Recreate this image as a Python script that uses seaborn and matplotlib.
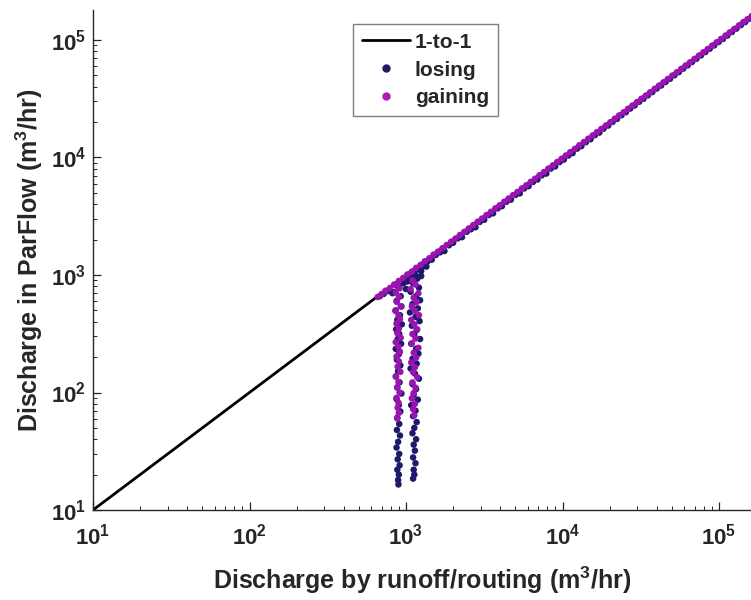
import numpy as np
import pandas as pd
import matplotlib
matplotlib.use("Agg")
import matplotlib.pyplot as plt
import seaborn as sns
from matplotlib.lines import Line2D
from matplotlib.ticker import FixedLocator, FixedFormatter, LogLocator, NullFormatter

# ---------------- data ----------------
one_to_one = [10, 200000]

# losing points along the 1:1 line
losing_line_x = [680, 720, 770, 820, 870, 930, 990, 1050, 1120, 1200, 1280, 1370, 1460, 1550,
                 1650, 1760, 1880, 2000, 2140, 2280, 2440, 2600, 2780, 2960, 3160, 3380, 3600,
                 3850, 4100, 4380, 4680, 5000, 5330, 5690, 6070, 6480, 6920, 7380, 7880, 8410,
                 8980, 9580, 10200, 10900, 11600, 12400, 13200, 14100, 15100, 16100, 17200,
                 18300, 19600, 20900, 22300, 23800, 25400, 27100, 28900, 30900, 32900, 35100,
                 37500, 40000, 42700, 45600, 48600, 51900, 55400, 59100, 63100, 67300, 71800,
                 76700, 81800, 87300, 93200, 99500, 106000, 113000, 121000, 129000, 138000,
                 147000, 157000]
losing_line_y = [660, 690, 730, 700, 820, 870, 930, 960, 1050, 1120, 1180, 1300, 1350, 1480,
                 1560, 1600, 1790, 1880, 2050, 2100, 2330, 2450, 2550, 2830, 2950, 3240, 3350,
                 3690, 3850, 4200, 4380, 4800, 4950, 5450, 5700, 6200, 6500, 7050, 7300, 8050,
                 8400, 9150, 9600, 10400, 10900, 11900, 12500, 13500, 14300, 15500, 16300,
                 17600, 18700, 20100, 21300, 22900, 24300, 26100, 27700, 29800, 31600, 33800,
                 36000, 38600, 41000, 44000, 46700, 50100, 53300, 57100, 60800, 65000, 69300,
                 74000, 79000, 84300, 90000, 96200, 102000, 109000, 117000, 125000, 134000,
                 142000, 152000]

# losing points in the two vertical columns near 10^3 (and the fan where they meet the line)
losing_col_x = [900, 850, 925, 870, 935, 860, 915, 880, 940, 865, 905, 885, 930, 860, 900, 875,
                920, 890, 860, 910, 880, 935, 870, 900, 920, 880, 905, 875, 915, 890, 870, 905,
                885, 910, 880, 900, 890, 895,
                1180, 1110, 1210, 1070, 1160, 1230, 1100, 1190, 1060, 1150, 1220, 1090, 1170,
                1130, 1230, 1080, 1160, 1200, 1100, 1170, 1070, 1140, 1210, 1100, 1160, 1120,
                1190, 1080, 1150, 1110, 1170, 1130, 1100, 1160, 1120, 1140, 1110, 1150, 1120,
                1130, 1110,
                960, 1020, 1080, 1150, 1250, 1350, 1000, 1250]
losing_col_y = [800, 720, 660, 600, 540, 500, 455, 415, 380, 345, 315, 285, 260, 235, 212, 190,
                170, 152, 137, 122, 110, 98, 88, 78, 69, 61, 54, 48, 43, 38, 34, 30,
                27, 24, 22, 20, 18, 16.5,
                930, 850, 780, 720, 660, 610, 565, 520, 480, 440, 405, 370, 340,
                310, 285, 260, 236, 214, 194, 176, 160, 145, 131, 118, 107, 96,
                87, 78, 70, 63, 56, 50, 45, 40, 36, 32, 28, 25, 22,
                20, 18.5,
                850, 880, 950, 1000, 1080, 1180, 760, 980]

# gaining points along the 1:1 line
gaining_line_x = [660, 700, 740, 790, 840, 900, 960, 1020, 1090, 1160, 1240, 1320, 1410, 1500,
                  1600, 1710, 1820, 1940, 2070, 2210, 2360, 2520, 2690, 2870, 3060, 3270, 3490,
                  3720, 3970, 4240, 4520, 4830, 5150, 5500, 5870, 6260, 6680, 7130, 7610, 8120,
                  8670, 9250, 9870, 10500, 11200, 12000, 12800, 13700, 14600, 15600, 16600,
                  17700, 18900, 20200, 21600, 23000, 24600, 26200, 28000, 29900, 31900, 34000,
                  36300, 38800, 41400, 44200, 47100, 50300, 53700, 57300, 61200, 65300, 69700,
                  74400, 79400, 84700, 90400, 96500, 103000, 110000, 117000, 125000, 134000,
                  143000, 152000, 162000]
gaining_line_y = [650, 690, 735, 775, 830, 890, 945, 1010, 1070, 1150, 1220, 1310, 1390, 1490,
                  1580, 1690, 1800, 1920, 2040, 2190, 2330, 2490, 2660, 2840, 3020, 3240, 3450,
                  3690, 3920, 4200, 4470, 4780, 5090, 5450, 5800, 6200, 6600, 7060, 7520, 8040,
                  8570, 9160, 9760, 10400, 11100, 11850, 12700, 13550, 14450, 15400, 16450,
                  17500, 18700, 19950, 21400, 22800, 24300, 25950, 27700, 29600, 31600, 33600,
                  35900, 38400, 41000, 43700, 46600, 49800, 53100, 56700, 60600, 64600, 69000,
                  73600, 78600, 83800, 89500, 95500, 102000, 109000, 116000, 124000, 133000,
                  142000, 150000, 160000]

# gaining points in the two vertical columns near 10^3
gaining_col_x = [880, 910, 860, 900, 875, 925, 855, 895, 915, 870, 900, 880, 925, 860, 895, 915,
                 870, 900, 885, 920, 865, 895, 880, 910, 870, 895, 885, 900, 880,
                 1100, 1150, 1070, 1200, 1120, 1170, 1090, 1140, 1210, 1080, 1130, 1180, 1100,
                 1150, 1090, 1200, 1120, 1160, 1080, 1140, 1110, 1180, 1100, 1150, 1120, 1090,
                 1140, 1110, 1130]
gaining_col_y = [840, 770, 710, 650, 590, 540, 495, 455, 420, 385, 350, 320, 292, 268, 245, 222,
                 202, 184, 166, 150, 136, 123, 111, 100, 90, 82, 74, 67, 60,
                 900, 830, 760, 700, 640, 590, 540, 495, 455, 415, 380, 345, 315,
                 288, 262, 240, 218, 198, 180, 164, 149, 135, 122, 110, 99, 89,
                 80, 72, 64]

series_names = ["1-to-1", "losing", "gaining"]
x_ticks = [10, 100, 1000, 10000, 100000]
tick_labels = ["$\\mathrm{10^{1}}$", "$\\mathrm{10^{2}}$", "$\\mathrm{10^{3}}$",
               "$\\mathrm{10^{4}}$", "$\\mathrm{10^{5}}$"]

# ---------------- style ----------------
sns.set_style("ticks")
text_color = "#262626"
plt.rcParams.update({
    "font.family": ["Liberation Sans", "DejaVu Sans"],
    "font.weight": "bold",
    "mathtext.fontset": "custom",
    "mathtext.rm": "Liberation Sans:bold",
    "mathtext.bf": "Liberation Sans:bold",
    "mathtext.it": "Liberation Sans:bold:italic",
    "mathtext.sf": "Liberation Sans:bold",
    "text.color": text_color,
    "axes.labelcolor": text_color,
    "xtick.color": text_color,
    "ytick.color": text_color,
    "axes.edgecolor": text_color,
})

c_los = "#1e1a6a"
c_gain = "#9a14b2"

df = pd.concat([
    pd.DataFrame({"x": losing_line_x, "y": losing_line_y, "type": "losing"}),
    pd.DataFrame({"x": losing_col_x, "y": losing_col_y, "type": "losing"}),
    pd.DataFrame({"x": gaining_line_x, "y": gaining_line_y, "type": "gaining"}),
    pd.DataFrame({"x": gaining_col_x, "y": gaining_col_y, "type": "gaining"}),
], ignore_index=True)
line_df = pd.DataFrame({"x": one_to_one, "y": one_to_one})

fig = plt.figure(figsize=(7.51, 6.0), dpi=100)
ax = fig.add_axes([93 / 751, 90 / 600, 658 / 751, 500 / 600])
ax.set_xscale("log")
ax.set_yscale("log")

sns.lineplot(data=line_df, x="x", y="y", color="black", linewidth=2.0, ax=ax, zorder=1,
             legend=False)
sns.scatterplot(data=df, x="x", y="y", hue="type",
                palette={"losing": c_los, "gaining": c_gain},
                s=22, linewidth=0, ax=ax, legend=False, zorder=2)

ax.set_xlim(10, 10 ** (1 + 658 / 156.5))
ax.set_ylim(10, 10 ** (1 + 500 / 117.5))

for sp in ["top", "right"]:
    ax.spines[sp].set_visible(False)
for sp in ["left", "bottom"]:
    ax.spines[sp].set_linewidth(1.0)

ax.xaxis.set_major_locator(FixedLocator(x_ticks))
ax.xaxis.set_major_formatter(FixedFormatter(tick_labels))
ax.yaxis.set_major_locator(FixedLocator(x_ticks))
ax.yaxis.set_major_formatter(FixedFormatter(tick_labels))
ax.xaxis.set_minor_locator(LogLocator(base=10, subs=np.arange(2, 10)))
ax.yaxis.set_minor_locator(LogLocator(base=10, subs=np.arange(2, 10)))
ax.xaxis.set_minor_formatter(NullFormatter())
ax.yaxis.set_minor_formatter(NullFormatter())

ax.tick_params(axis="both", which="major", direction="in", length=6, width=0.9, labelsize=16)
ax.tick_params(axis="both", which="minor", direction="in", length=3, width=0.7)
ax.tick_params(axis="x", which="major", pad=10)
ax.tick_params(axis="y", which="major", pad=5)

ax.set_xlabel("Discharge by runoff/routing (m$^{3}$/hr)", fontsize=18, fontweight="bold",
              labelpad=11)
ax.set_ylabel("Discharge in ParFlow (m$^{3}$/hr)", fontsize=18, fontweight="bold", labelpad=4)

handles = [
    Line2D([], [], color="black", linewidth=2.0),
    Line2D([], [], marker="o", linestyle="", color=c_los, markersize=5),
    Line2D([], [], marker="o", linestyle="", color="#b01ab8", markersize=5),
]
leg = ax.legend(handles, series_names, loc="upper left", bbox_to_anchor=(0.395, 0.972),
                borderaxespad=0, frameon=True, fancybox=False, edgecolor="#7f7f7f",
                framealpha=1, fontsize=15, handlelength=2.3, handletextpad=0.25,
                labelspacing=0.42, borderpad=0.42)
leg.get_frame().set_linewidth(1.0)
for t in leg.get_texts():
    t.set_fontweight("bold")

fig.savefig("out.png", dpi=100)
